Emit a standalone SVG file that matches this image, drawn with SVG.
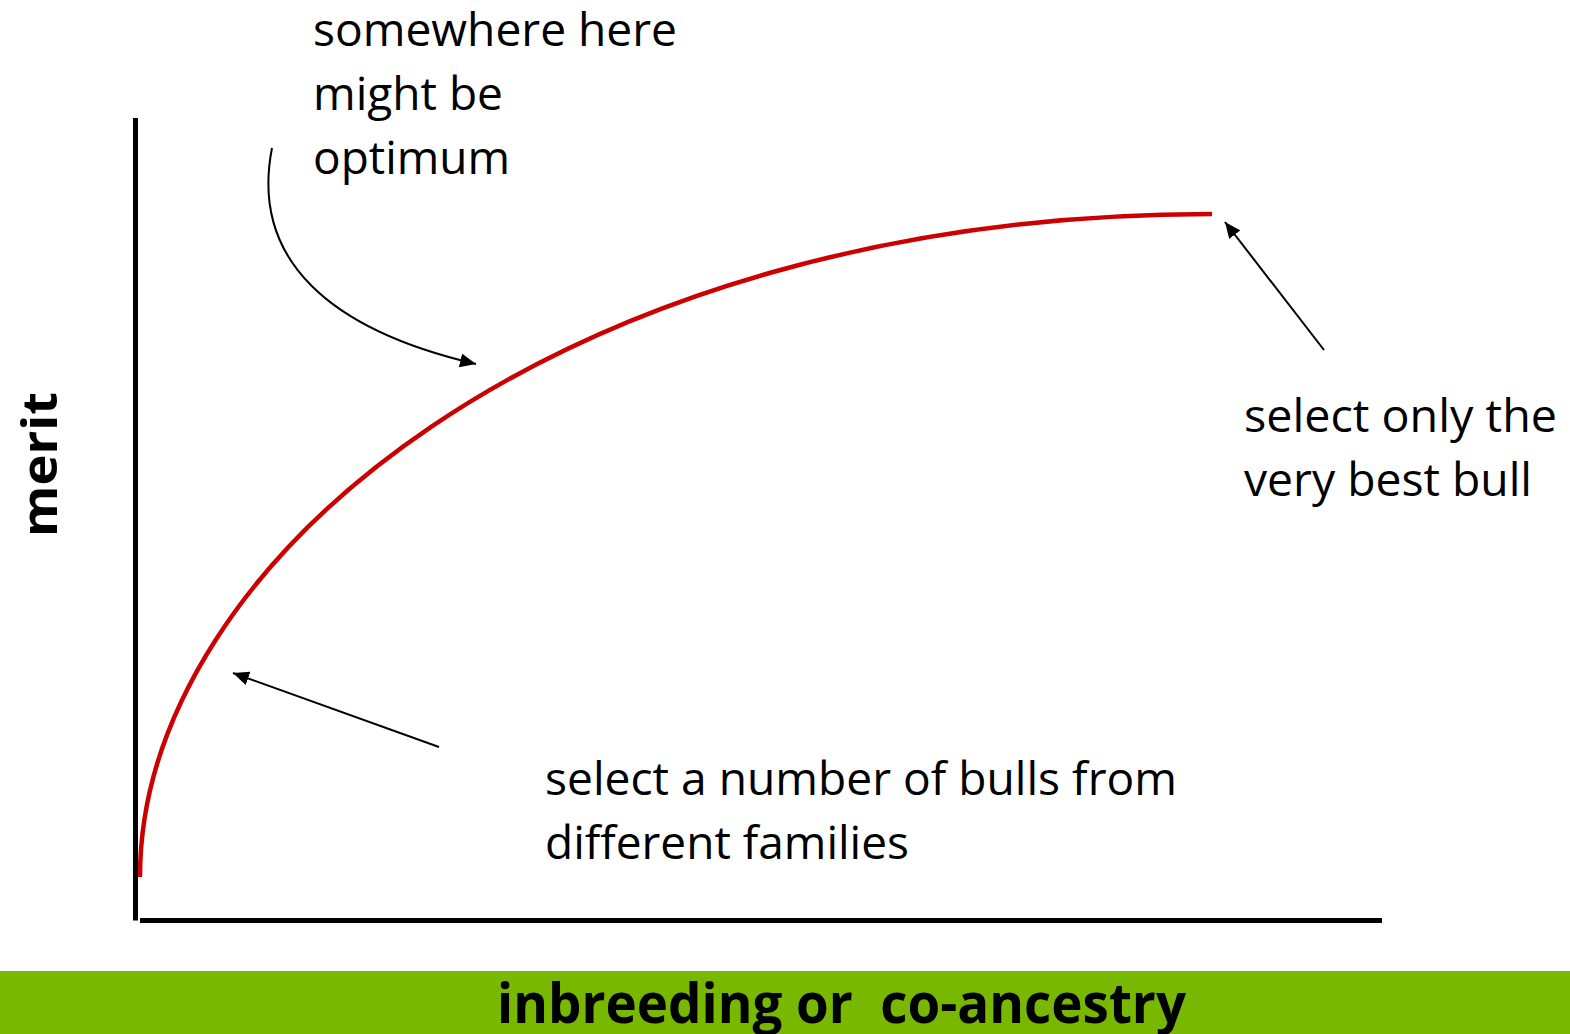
<svg xmlns="http://www.w3.org/2000/svg" width="1570" height="1034" viewBox="0 0 1570 1034">
  <defs>
    <style>
      .lbl { font-family: "Open Sans", "Noto Sans", "Liberation Sans", sans-serif; font-size: 46px; fill: #000; }
      .bold { font-family: "Open Sans", "Noto Sans", "Liberation Sans", sans-serif; font-weight: bold; fill: #000; }
      .axis { stroke: #000; stroke-width: 5; fill: none; }
      .pointer { stroke: #000; stroke-width: 2; fill: none; marker-end: url(#arrow); }
    </style>
    <marker id="arrow" markerUnits="userSpaceOnUse" markerWidth="18" markerHeight="14" refX="16" refY="7" orient="auto">
      <path d="M0,0 L16,7 L0,14 Z" fill="#000"/>
    </marker>
  </defs>
  <rect width="1570" height="1034" fill="#fff"/>

  <g id="axes">
    <line class="axis" x1="135.5" y1="118" x2="135.5" y2="920.5"/>
    <line class="axis" x1="140" y1="920.5" x2="1382" y2="920.5"/>
  </g>

  <g id="curve">
    <path d="M140,877 C140,560 560,214 1212,214" stroke="#CC0000" stroke-width="4.5" fill="none"/>
  </g>

  <g id="connectors">
    <path class="pointer" d="M272,148 C250,260 330,330 476,364"/>
    <line class="pointer" x1="1324" y1="350" x2="1225" y2="222"/>
    <line class="pointer" x1="439" y1="747" x2="233" y2="673"/>
  </g>

  <g id="label-optimum">
    <text class="lbl" x="313" y="46" textLength="364" lengthAdjust="spacingAndGlyphs">somewhere here</text>
    <text class="lbl" x="313" y="110" textLength="190" lengthAdjust="spacingAndGlyphs">might be</text>
    <text class="lbl" x="313" y="174" textLength="197" lengthAdjust="spacingAndGlyphs">optimum</text>
  </g>

  <g id="label-best-bull">
    <text class="lbl" x="1244" y="432" textLength="313" lengthAdjust="spacingAndGlyphs">select only the</text>
    <text class="lbl" x="1244" y="496" textLength="288" lengthAdjust="spacingAndGlyphs">very best bull</text>
  </g>

  <g id="label-families">
    <text class="lbl" x="545" y="795" textLength="632" lengthAdjust="spacingAndGlyphs">select a number of bulls from</text>
    <text class="lbl" x="545" y="859" textLength="364" lengthAdjust="spacingAndGlyphs">different families</text>
  </g>

  <g id="y-axis-label">
    <text class="bold" font-size="48" transform="translate(57,537) rotate(-90)" textLength="145" lengthAdjust="spacingAndGlyphs">merit</text>
  </g>

  <g id="x-axis-label">
    <rect x="0" y="971" width="1570" height="63" fill="#78B800"/>
    <text class="bold" font-size="55" x="497" y="1023" textLength="689" lengthAdjust="spacingAndGlyphs" xml:space="preserve">inbreeding or  co-ancestry</text>
  </g>
</svg>
